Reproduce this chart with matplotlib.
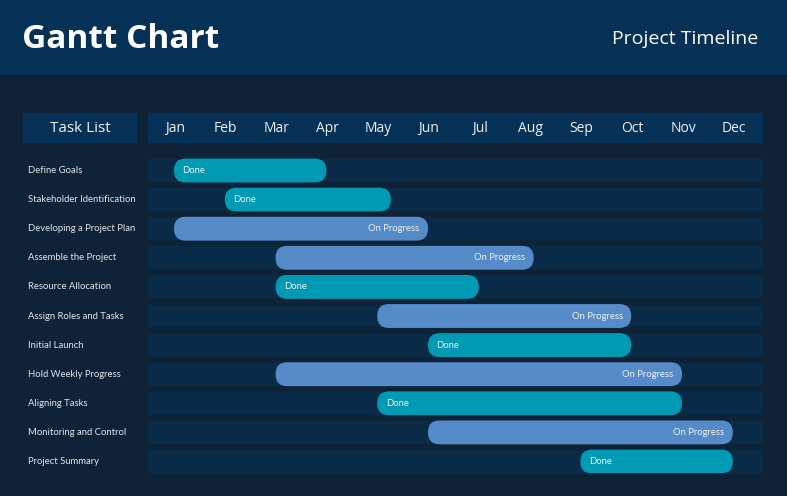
import matplotlib.pyplot as plt
from matplotlib.patches import Rectangle, FancyBboxPatch
import matplotlib.transforms as mtransforms

# data
tasks = ["Define Goals", "Stakeholder Identification", "Developing a Project Plan",
         "Assemble the Project", "Resource Allocation", "Assign Roles and Tasks",
         "Initial Launch", "Hold Weekly Progress", "Aligning Tasks",
         "Monitoring and Control", "Project Summary"]
start = [1, 2, 1, 3, 3, 5, 6, 3, 5, 6, 9]
end = [4, 5.27, 6, 8.08, 7, 10, 10, 11, 11, 12, 12]
status = ["Done", "Done", "On Progress", "On Progress", "Done", "On Progress",
          "Done", "On Progress", "Done", "On Progress", "Done"]
months = ["Jan", "Feb", "Mar", "Apr", "May", "Jun", "Jul", "Aug", "Sep", "Oct", "Nov", "Dec"]

BG = "#0f2338"
HEADER = "#053156"
BAND = "#0a2b47"
TEXT = "#eef2f6"
colors = {"Done": "#019ab4", "On Progress": "#558bc8"}

W, H = 787, 496
fig = plt.figure(figsize=(W / 100, H / 100), dpi=100)
fig.patch.set_facecolor(BG)
plt.rcParams['font.family'] = ['Lato', 'DejaVu Sans']


def fx(px):
    return px / W


def fy(py):
    return 1 - py / H


# title band
fig.patches.append(Rectangle((0, fy(75)), 1, 75 / H, transform=fig.transFigure,
                             facecolor=HEADER, edgecolor="none", zorder=0))
fig.text(fx(22), fy(39), "Gantt Chart", color="white", fontsize=24, fontweight="bold",
         family=["Open Sans", "DejaVu Sans"], va="center", ha="left")
fig.text(fx(758), fy(39), "Project Timeline", color="white", fontsize=14,
         family=["Open Sans", "DejaVu Sans"], va="center", ha="right")

# task list header box
fig.patches.append(Rectangle((fx(23), fy(143)), fx(137) - fx(23), 30 / H,
                             transform=fig.transFigure, facecolor=HEADER,
                             edgecolor="none", zorder=0))
fig.text(fx(80), fy(128), "Task List", color=TEXT, fontsize=11,
         family=["Open Sans", "DejaVu Sans"], va="center", ha="center")

# gantt axes
px_month = 50.8
left, right, top, bottom = 148, 763, 113, 473
x0 = 1 - (174 - left) / px_month
x1 = 1 + (right - 174) / px_month
ax = fig.add_axes([fx(left), fy(bottom), fx(right) - fx(left), (bottom - top) / H])
ax.set_facecolor("none")
ax.set_xlim(x0, x1)
ax.set_ylim(10.395, -1.976)
ax.axis("off")

# month header
ax.add_patch(Rectangle((x0, -1.976), x1 - x0, 1.03, facecolor=HEADER, edgecolor="none"))
for i, m in enumerate(months):
    ax.text(i + 1 + 1 / px_month, -1.45, m, color=TEXT, fontsize=10,
            family=["Open Sans", "DejaVu Sans"], ha="center", va="center")

band_h = 0.79
bar_h = 0.82
aspect = px_month / 29.1
radius = 11.5 / px_month
dx_text = 8.5 / px_month

label_trans = mtransforms.blended_transform_factory(fig.transFigure, ax.transData)
for i, task in enumerate(tasks):
    ax.add_patch(Rectangle((x0, i - band_h / 2), x1 - x0, band_h, facecolor=BAND,
                           edgecolor="none", zorder=1))
    ax.text(fx(28), i, task, transform=label_trans, color="#dfe5ec", fontsize=6.8,
            ha="left", va="center")
    c = colors[status[i]]
    ax.add_patch(FancyBboxPatch((start[i], i - bar_h / 2), end[i] - start[i], bar_h,
                                boxstyle=f"round,pad=0,rounding_size={radius}",
                                mutation_aspect=aspect, facecolor=c, edgecolor="none",
                                zorder=2))
    if status[i] == "Done":
        ax.text(start[i] + dx_text, i, status[i], color=TEXT, fontsize=6.8,
                ha="left", va="center", zorder=3)
    else:
        ax.text(end[i] - dx_text, i, status[i], color=TEXT, fontsize=6.8,
                ha="right", va="center", zorder=3)

fig.savefig("out.png", dpi=100, facecolor=BG)
